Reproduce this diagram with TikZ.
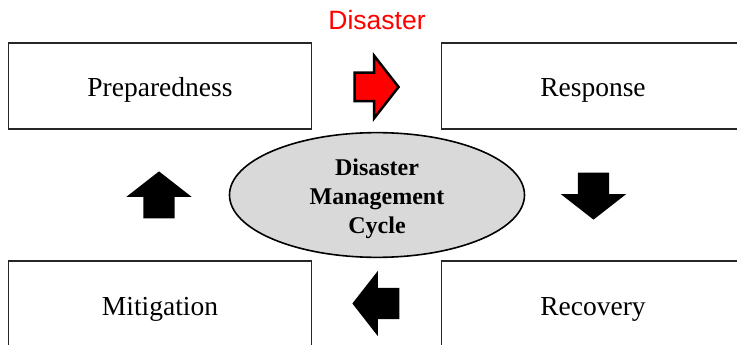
\documentclass[tikz,border=0pt]{standalone}
\usepackage{fontspec}
\setmainfont{Liberation Serif}
\newfontfamily\arialfont{Liberation Sans}
\usetikzlibrary{shapes.geometric,shapes.arrows}

\tikzset{
  phase/.style={draw=black!85, line width=1.4pt, minimum width=303pt, minimum height=86pt,
    inner sep=0pt, text height=28pt, text depth=6pt, font=\fontsize{27.5}{32}\selectfont},
  blkarrow/.style={single arrow, fill=black, draw=none, inner sep=15.5pt, minimum height=47pt,
    single arrow head extend=17pt, single arrow tip angle=104, text width=0pt},
}

\begin{document}
\begin{tikzpicture}[x=1pt,y=-1pt]
\useasboundingbox (0,0) rectangle (737,345);

\node[phase] (prep) at (160,86) {Preparedness};
\node[phase] (resp) at (593,86) {Response};
\node[phase] (miti) at (160,304) {Mitigation};
\node[phase] (reco) at (593,304) {Recovery};

\node[draw, ellipse, fill=black!15, line width=1.6pt, minimum width=295pt, minimum height=101pt,
  inner sep=0pt, align=center, font=\fontsize{24}{29}\selectfont\bfseries] (cycle) at (377,195)
  {\rule{0pt}{25pt}Disaster\\Management\\Cycle};

\node[red, anchor=base, inner sep=0pt, font=\arialfont\fontsize{26.5}{30}\selectfont] (dis) at (377,30) {Disaster};

\node[blkarrow, fill=red, draw=black, line width=2.5pt, inner sep=13pt, minimum height=44pt,
  single arrow head extend=17pt] (a1) at (371,87) {};
\node[blkarrow, shape border rotate=270] (a2) at (593.5,190) {};
\node[blkarrow, shape border rotate=180] (a3) at (382,303.5) {};
\node[blkarrow, shape border rotate=90] (a4) at (159,201) {};

\end{tikzpicture}
\end{document}
